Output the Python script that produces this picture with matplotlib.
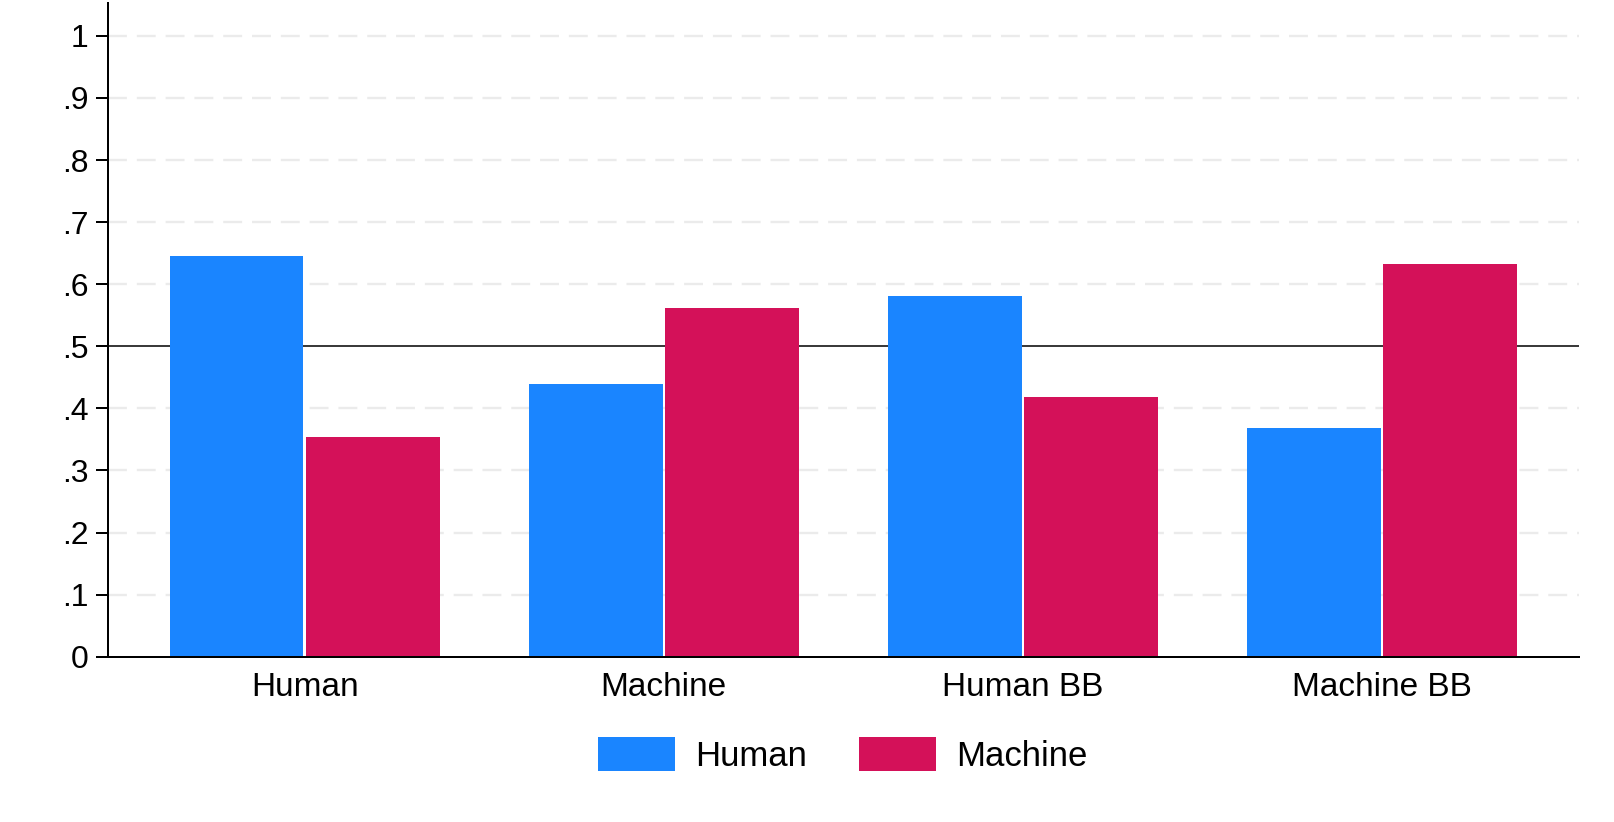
import matplotlib
matplotlib.use('Agg')
import matplotlib.pyplot as plt
import numpy as np

plt.rcParams['font.family'] = ['Liberation Sans', 'DejaVu Sans']

# data
groups = ['Human', 'Machine', 'Human BB', 'Machine BB']
series = ['Human', 'Machine']
human_share = [0.646, 0.439, 0.581, 0.368]
machine_share = [0.354, 0.561, 0.419, 0.632]
yticks = [0, 0.1, 0.2, 0.3, 0.4, 0.5, 0.6, 0.7, 0.8, 0.9, 1.0]
ytick_labels = ['0', '.1', '.2', '.3', '.4', '.5', '.6', '.7', '.8', '.9', '1']

blue = '#1a85ff'
red = '#d41159'

fig = plt.figure(figsize=(16.14, 8.22), dpi=100)
ax = fig.add_axes([0.0671, 0.2011, 0.9781 - 0.0671, 0.9964 - 0.2011])

x = np.arange(len(groups))
w = 0.373
off = w / 2 + 0.0035
ax.bar(x - off, human_share, width=w, color=blue, linewidth=0, label=series[0], zorder=2)
ax.bar(x + off, machine_share, width=w, color=red, linewidth=0, label=series[1], zorder=2)

# reference line at .5
ax.axhline(0.5, color='black', lw=1.1, zorder=1)

# dashed light grid
for v in yticks[1:]:
    if v == 0.5:
        continue
    ax.axhline(v, color='#ebebeb', lw=1.7, linestyle=(0, (8, 4.2)), zorder=0)

ax.set_xlim(-0.547, 3.548)
ax.set_ylim(0, 1.053)
ax.set_yticks(yticks)
ax.set_yticklabels(ytick_labels)
ax.set_xticks(x)
ax.set_xticklabels(groups)

ax.tick_params(axis='y', length=9, width=1.44, labelsize=23, pad=5)
ax.tick_params(axis='x', length=0, labelsize=24, pad=11)

for s in ['top', 'right']:
    ax.spines[s].set_visible(False)
for s in ['left', 'bottom']:
    ax.spines[s].set_linewidth(1.44)

fig.legend(loc='center', bbox_to_anchor=(843 / 1614, 1 - 755 / 822), ncol=2,
           frameon=False, fontsize=25, handlelength=2.2, handleheight=1.1,
           handletextpad=0.6, columnspacing=1.5)

fig.savefig('out.png', dpi=100, facecolor='white')
